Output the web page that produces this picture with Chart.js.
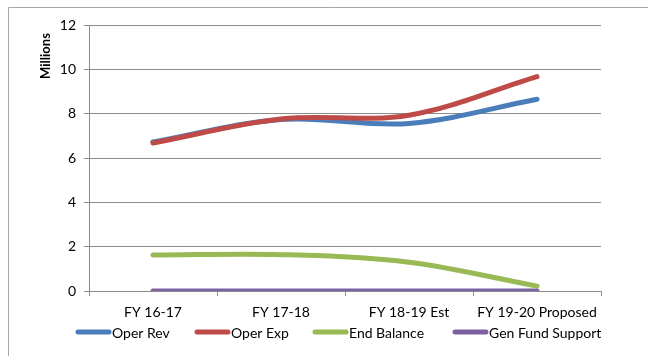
<!DOCTYPE html>
<html>
<head>
<meta charset="utf-8">
<script src="https://cdn.jsdelivr.net/npm/chart.js@4/dist/chart.umd.min.js"></script>
<style>
  html, body { margin: 0; padding: 0; background: #fff; }
  #wrap { width: 648px; height: 356px; position: relative; }
</style>
</head>
<body>
<div id="wrap"><canvas id="c" width="648" height="356"></canvas></div>
<script>
// Fiscal years on the category axis
const categories = ['FY 16-17', 'FY 17-18', 'FY 18-19 Est', 'FY 19-20 Proposed'];

// Amounts in millions
const operRev = [6.72, 7.74, 7.56, 8.65];
const operExp = [6.68, 7.76, 7.93, 9.67];
const endBalance = [1.62, 1.64, 1.30, 0.22];
const genFundSupport = [0, 0, 0, 0];

// Value axis
const yMin = 0, yMax = 12, yStep = 2;
const yTitle = 'Millions';

const FONT = 'Lato, "Liberation Sans", sans-serif';
const GRID = '#8c8c8c';

// Outer frame, axis title and the line-sample legend
const decorations = {
  id: 'decorations',
  beforeDraw(chart) {
    const ctx = chart.ctx;
    ctx.save();
    ctx.fillStyle = '#fff';
    ctx.fillRect(0, 0, chart.width, chart.height);
    ctx.strokeStyle = '#a6a6a6';
    ctx.lineWidth = 1;
    ctx.beginPath();
    ctx.moveTo(8.5, chart.height + 2);
    ctx.lineTo(8.5, 7.5);
    ctx.lineTo(chart.width + 2, 7.5);
    ctx.stroke();
    ctx.restore();
  },
  afterDraw(chart) {
    const ctx = chart.ctx;
    ctx.save();
    // rotated axis title
    ctx.translate(46, 56);
    ctx.rotate(-Math.PI / 2);
    ctx.font = 'bold 13px ' + FONT;
    ctx.fillStyle = '#000';
    ctx.textAlign = 'center';
    ctx.textBaseline = 'middle';
    ctx.fillText(yTitle, 0, 0);
    ctx.restore();

    // legend row
    ctx.save();
    ctx.font = '14px ' + FONT;
    ctx.textBaseline = 'middle';
    ctx.fillStyle = '#000';
    const starts = [78, 197, 315, 455];
    const y = 332;
    chart.data.datasets.forEach((ds, i) => {
      const x0 = starts[i];
      ctx.strokeStyle = ds.borderColor;
      ctx.lineWidth = 5;
      ctx.lineCap = 'round';
      ctx.beginPath();
      ctx.moveTo(x0, y);
      ctx.lineTo(x0 + 31, y);
      ctx.stroke();
      ctx.fillText(ds.label, x0 + 34, y + 1);
    });
    ctx.restore();
  }
};

const lineDefaults = {
  borderWidth: 5,
  pointRadius: 0,
  pointHoverRadius: 0,
  tension: 0.35,
  borderCapStyle: 'round',
  borderJoinStyle: 'round',
  fill: false
};

new Chart(document.getElementById('c'), {
  type: 'line',
  data: {
    labels: categories,
    datasets: [
      Object.assign({ label: 'Oper Rev', data: operRev, borderColor: '#4a7ebb', order: 3 }, lineDefaults),
      Object.assign({ label: 'Oper Exp', data: operExp, borderColor: '#be4b48', order: 2 }, lineDefaults),
      Object.assign({ label: 'End Balance', data: endBalance, borderColor: '#98b954', order: 1 }, lineDefaults),
      Object.assign({ label: 'Gen Fund Support', data: genFundSupport, borderColor: '#7d60a0', order: 0 }, lineDefaults)
    ]
  },
  options: {
    responsive: false,
    animation: false,
    devicePixelRatio: 1,
    layout: { padding: { left: 0, right: 47, top: 25, bottom: 0 } },
    plugins: {
      legend: { display: false },
      tooltip: { enabled: false }
    },
    scales: {
      x: {
        offset: true,
        afterFit(scale) { scale.height = 65; },
        grid: {
          offset: true,
          drawOnChartArea: false,
          drawTicks: true,
          tickLength: 5,
          color: GRID
        },
        border: { display: true, color: GRID, width: 1 },
        ticks: {
          color: '#000',
          font: { family: FONT, size: 14 },
          padding: 8,
          maxRotation: 0,
          autoSkip: false
        }
      },
      y: {
        min: yMin,
        max: yMax,
        afterFit(scale) { scale.width = 89; },
        grid: {
          color: GRID,
          drawTicks: true,
          tickLength: 5
        },
        border: { display: true, color: GRID, width: 1 },
        ticks: {
          stepSize: yStep,
          color: '#000',
          font: { family: FONT, size: 14 },
          padding: 8
        }
      }
    }
  },
  plugins: [decorations]
});
</script>
</body>
</html>
